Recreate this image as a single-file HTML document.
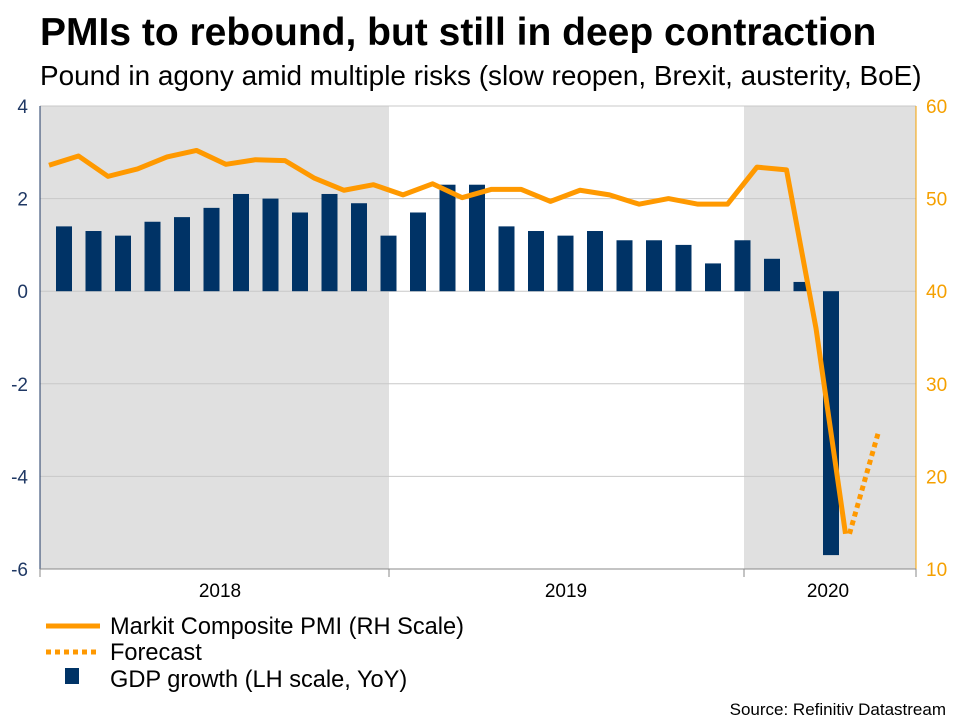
<!DOCTYPE html>
<html><head><meta charset="utf-8"><style>
body{margin:0;background:#fff;font-family:"Liberation Sans",Arial,sans-serif}
svg text{font-family:"Liberation Sans",Arial,sans-serif}
</style></head><body>
<svg id="c" width="960" height="720" xmlns="http://www.w3.org/2000/svg">
<text x="40" y="45" font-size="39" font-weight="bold" fill="#000">PMIs to rebound, but still in deep contraction</text>
<text x="40" y="85" font-size="27.9" fill="#000">Pound in agony amid multiple risks (slow reopen, Brexit, austerity, BoE)</text>
<g id="plot"></g>
<g>
<line x1="46" y1="626" x2="100" y2="626" stroke="#f90" stroke-width="5"/>
<text x="110" y="634" font-size="23.6">Markit Composite PMI (RH Scale)</text>
<line x1="46" y1="652" x2="100" y2="652" stroke="#f90" stroke-width="5" stroke-dasharray="5,4"/>
<text x="110" y="660" font-size="23.6">Forecast</text>
<rect x="65" y="668" width="14" height="16" fill="#003366"/>
<text x="110" y="687" font-size="23.6">GDP growth (LH scale, YoY)</text>
</g>
<text x="946" y="715" font-size="17" text-anchor="end">Source: Refinitiv Datastream</text>
</svg>
<script>
const gdp=[1.4,1.3,1.2,1.5,1.6,1.8,2.1,2.0,1.7,2.1,1.9,1.2,1.7,2.3,2.3,1.4,1.3,1.2,1.3,1.1,1.1,1.0,0.6,1.1,0.7,0.2,-5.7];
const pmi=[53.6,54.6,52.4,53.2,54.5,55.2,53.7,54.2,54.1,52.2,50.9,51.5,50.4,51.6,50.1,51.0,51.0,49.7,50.9,50.4,49.4,50.0,49.4,49.4,53.4,53.1,36.0,13.8];
const forecast=[13.8,25.0];
const leftTicks=[4,2,0,-2,-4,-6];
const rightTicks=[60,50,40,30,20,10];
const years=["2018","2019","2020"];
const NS="http://www.w3.org/2000/svg";
const g=document.getElementById('plot');
const X0=40,X1=916,Y0=106,Y1=569;
const yL=v=>Y0+(4-v)*(Y1-Y0)/10;
const yR=v=>Y0+(60-v)*(Y1-Y0)/50;
const xm=i=>49+i*29.5;
function el(t,a){const e=document.createElementNS(NS,t);for(const k in a)e.setAttribute(k,a[k]);g.appendChild(e);return e;}
let e;
e=el('rect',{x:X0,y:Y0,width:349,height:Y1-Y0,fill:'#e0e0e0'});


e=el('rect',{x:744,y:Y0,width:X1-744,height:Y1-Y0,fill:'#e0e0e0'});


leftTicks.forEach(v=>{
 e=el('line',{x1:X0,x2:X1,y1:yL(v),y2:yL(v),stroke:'#c8c8c8','stroke-width':1});
 
 
 e=el('text',{x:28,y:yL(v)+7,'font-size':19,fill:'#1f3864','text-anchor':'end'});e.textContent=v;
 
 
});
rightTicks.forEach(v=>{
 e=el('text',{x:926,y:yR(v)+7,'font-size':19,fill:'#f5a000'});e.textContent=v;
 
 
});
e=el('line',{x1:X0,x2:X0,y1:Y0,y2:Y1,stroke:'#1f3864','stroke-width':1});


e=el('line',{x1:X1,x2:X1,y1:Y0,y2:Y1,stroke:'#f5a000','stroke-width':1});


e=el('line',{x1:X0,x2:X1,y1:Y1,y2:Y1,stroke:'#888','stroke-width':1});


[X0,389,744,X1].forEach(x=>{e=el('line',{x1:x,x2:x,y1:Y1,y2:Y1+8,stroke:'#888'});
 
 });
const yx=[220,566,828];
years.forEach((y,i)=>{e=el('text',{x:yx[i],y:597,'font-size':19,'text-anchor':'middle'});e.textContent=y;
 
 });
gdp.forEach((v,i)=>{
 const cx=xm(i)+15,y=Math.min(yL(v),yL(0)),h=Math.abs(yL(v)-yL(0));
 e=el('rect',{x:cx-8,y:y,width:16,height:h,fill:'#003366'});
 
 
});
e=el('polyline',{points:pmi.map((v,i)=>xm(i)+','+yR(v)).join(' '),fill:'none',stroke:'#f90','stroke-width':5,'stroke-linejoin':'round'});


const fi=pmi.length-1;
e=el('polyline',{points:forecast.map((v,i)=>(xm(fi+i)+4)+','+yR(v)).join(' '),fill:'none',stroke:'#f90','stroke-width':5,'stroke-dasharray':'5,4'});


</script>
</body></html>
